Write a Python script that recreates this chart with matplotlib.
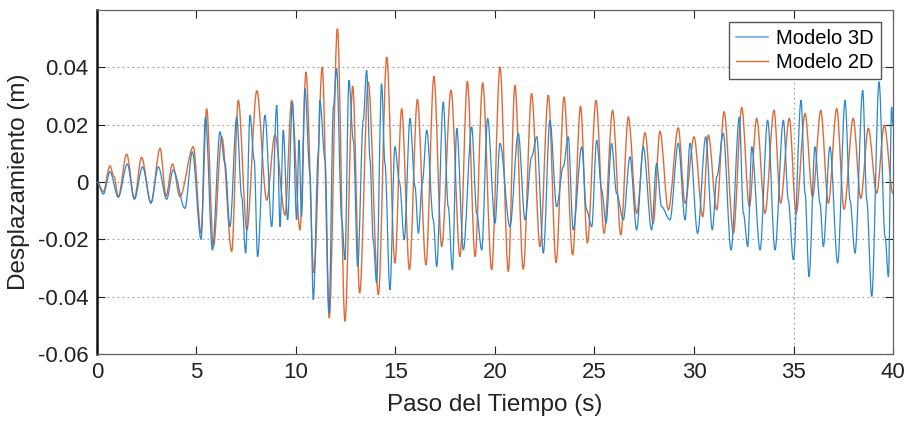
import matplotlib
matplotlib.use("Agg")
import matplotlib.pyplot as plt
from matplotlib.path import Path
from matplotlib.patches import PathPatch
from matplotlib.lines import Line2D
from matplotlib.ticker import FixedLocator, FuncFormatter

plt.rcParams['font.family'] = ['Liberation Sans', 'DejaVu Sans']
plt.rcParams['axes.unicode_minus'] = False

# ---- data (turning points of each trace) ----
t_2d = [0.0, 0.32, 0.65, 0.85, 1.07, 1.49, 1.88, 2.24, 2.71, 3.17, 3.47, 3.79, 4.17, 4.84,
        5.23, 5.51, 5.85, 6.27, 6.77, 7.10, 7.53, 8.03, 8.53, 8.94, 9.45, 9.78, 10.2, 10.5,
        10.9, 11.32, 11.67, 12.08, 12.46, 12.85, 13.2, 13.63, 14.14, 14.56, 14.97, 15.31,
        15.7, 16.1, 16.53, 16.93, 17.32, 17.79, 18.24, 18.61, 19.0, 19.38, 19.83, 20.25,
        20.67, 21.0, 21.42, 21.84, 22.26, 22.68, 23.07, 23.47, 23.9, 24.3, 24.64, 25.08,
        25.48, 25.91, 26.32, 26.7, 27.12, 27.54, 27.95, 28.29, 28.71, 29.21, 29.55, 30.0,
        30.44, 30.72, 31.14, 31.51, 31.98, 32.4, 32.78, 33.15, 33.57, 34.02, 34.35, 34.79,
        35.13, 35.58, 35.96, 36.37, 36.75, 37.17, 37.54, 38.0, 38.38, 38.76, 39.18, 39.56, 40.0]
d_2d = [0.0, -0.0034, 0.0056, 0.002, -0.0051, 0.0097, -0.0057, 0.0086, -0.0072, 0.0117,
        -0.0049, 0.0063, -0.0051, 0.0123, -0.0179, 0.0256, -0.0225, 0.0158, -0.0242, 0.0285,
        -0.0167, 0.0318, -0.0063, 0.0164, -0.0115, 0.0285, -0.0167, 0.0384, -0.0317, 0.0401,
        -0.0474, 0.0535, -0.0486, 0.0334, -0.0387, 0.0349, -0.0393, 0.0436, -0.0283, 0.0256,
        -0.0306, 0.0288, -0.0289, 0.0369, -0.0225, 0.032, -0.026, 0.0351, -0.026, 0.0346,
        -0.0306, 0.0401, -0.0312, 0.0337, -0.0304, 0.0309, -0.0225, 0.0303, -0.0281, 0.0297,
        -0.0254, 0.0264, -0.0213, 0.0285, -0.0179, 0.025, -0.0184, 0.0227, -0.0109, 0.0172,
        -0.0144, 0.0177, -0.0097, 0.0189, -0.0074, 0.0158, -0.0121, 0.0164, -0.0097, 0.0245,
        -0.0179, 0.026, -0.0086, 0.0222, -0.0109, 0.025, -0.0074, 0.0222, -0.0109, 0.0239,
        -0.0051, 0.025, -0.0074, 0.0256, -0.0095, 0.0222, -0.0057, 0.0187, -0.0039, 0.0198,
        -0.004]

t_3d = [0.0, 0.32, 0.65, 1.07, 1.52, 1.88, 2.29, 2.71, 3.08, 3.5, 3.83, 4.42, 4.79, 5.23,
        5.45, 5.8, 6.18, 6.43, 6.68, 7.02, 7.27, 7.47, 7.69, 7.9, 8.07, 8.44, 8.78, 9.03,
        9.2, 9.36, 9.58, 9.82, 10.03, 10.15, 10.28, 10.45, 10.7, 10.87, 11.12, 11.2, 11.46,
        11.66, 11.88, 12.04, 12.3, 12.46, 12.66, 12.88, 13.1, 13.38, 13.55, 13.72, 13.88,
        14.05, 14.3, 14.47, 14.72, 14.97, 15.2, 15.44, 15.73, 15.98, 16.15, 16.35, 16.57,
        16.9, 17.07, 17.4, 17.65, 17.86, 18.08, 18.41, 18.83, 19.08, 19.33, 19.63, 20.0,
        20.25, 20.75, 21.17, 21.51, 21.84, 22.1, 22.43, 22.76, 23.1, 23.43, 23.68, 23.93,
        24.36, 24.6, 24.86, 25.11, 25.36, 25.58, 25.86, 26.11, 26.45, 26.78, 27.12, 27.45,
        27.87, 28.12, 28.37, 28.79, 29.21, 29.55, 29.8, 30.18, 30.59, 30.92, 31.15, 31.47,
        31.86, 32.28, 32.48, 32.7, 32.9, 33.32, 33.7, 34.07, 34.49, 34.74, 34.99, 35.38,
        35.58, 35.78, 36.08, 36.33, 36.5, 36.83, 37.22, 37.59, 37.84, 38.09, 38.48, 38.68,
        38.93, 39.3, 39.6, 39.77, 39.93, 40.0]
d_3d = [0.0, -0.0042, 0.0036, -0.0053, 0.0063, -0.006, 0.0053, -0.0074, 0.0053, -0.006,
        0.0042, -0.0092, 0.0105, -0.02, 0.0228, -0.0237, 0.0175, 0.0065, -0.0156, 0.0227,
        -0.0051, -0.0248, 0.0233, 0.0077, -0.026, 0.0233, -0.0156, 0.0268, -0.0156, 0.0181,
        -0.0132, 0.0279, -0.0132, 0.0146, -0.012, 0.0326, 0.003, -0.0411, 0.0101, 0.0285,
        0.0077, -0.0457, 0.0262, 0.0396, -0.0132, -0.0271, 0.0355, 0.0146, -0.0295, 0.0216,
        0.039, 0.0077, -0.0202, -0.0352, 0.0343, 0.0065, -0.0376, 0.0123, 0.0, -0.0202,
        0.0222, -0.0016, -0.0179, 0.0, 0.0181, -0.0132, -0.0295, 0.0279, -0.0086, -0.0306,
        0.0187, -0.0237, 0.0192, -0.0109, -0.0237, 0.0222, -0.0144, 0.0135, -0.0156, 0.017,
        -0.0132, 0.0088, 0.0158, -0.0248, 0.0216, -0.0086, 0.0053, 0.0158, -0.0167, 0.0123,
        -0.0097, -0.0156, 0.0146, -0.0028, -0.0144, 0.0135, -0.0039, -0.0132, 0.0088,
        -0.0167, 0.0123, -0.0167, 0.0065, -0.0086, -0.0132, 0.0135, -0.0132, 0.0135,
        -0.0179, 0.0158, -0.0167, 0.002, 0.017, -0.0237, 0.0227, -0.0109, -0.0225, 0.0123,
        -0.0237, 0.0216, -0.0237, 0.0216, -0.0063, -0.0271, 0.0285, -0.0039, -0.033, 0.0123,
        -0.0074, -0.0225, 0.0123, -0.0283, 0.0285, -0.0063, -0.0248, 0.032, -0.0063, -0.0399,
        0.035, -0.019, -0.033, 0.0262, 0.02]

series_labels = ['Modelo 3D', 'Modelo 2D']
x_ticks = [0, 5, 10, 15, 20, 25, 30, 35, 40]
y_ticks = [-0.06, -0.04, -0.02, 0, 0.02, 0.04]
y_grid = [-0.04, -0.02, 0, 0.02, 0.04]

c3d = '#2a88cf'
c2d = '#e06a35'


def smooth_path(xs, ys):
    """Rounded rendering of the trace: cubic segments with flat tangents at each turning point."""
    verts = [(xs[0], ys[0])]
    codes = [Path.MOVETO]
    for i in range(1, len(xs)):
        dx = (xs[i] - xs[i - 1]) / 3.0
        verts += [(xs[i - 1] + dx, ys[i - 1]), (xs[i] - dx, ys[i]), (xs[i], ys[i])]
        codes += [Path.CURVE4] * 3
    return Path(verts, codes)


fig = plt.figure(figsize=(9.09, 4.36), dpi=100)
ax = fig.add_axes([0.1067, 0.188, 0.8757, 0.789])

for yv in y_grid:
    ax.axhline(yv, color='#999999', lw=0.8, ls=(0, (1.5, 3)), zorder=0)
ax.axvline(35, color='#999999', lw=0.8, ls=(0, (1.5, 3)), zorder=0)

ax.add_patch(PathPatch(smooth_path(t_2d, d_2d), fill=False, edgecolor=c2d, lw=1.0,
                       zorder=2, transform=ax.transData))
ax.add_patch(PathPatch(smooth_path(t_3d, d_3d), fill=False, edgecolor=c3d, lw=0.9,
                       zorder=3, transform=ax.transData))

ax.set_xlim(0, 40)
ax.set_ylim(-0.06, 0.06)
ax.xaxis.set_major_locator(FixedLocator(x_ticks))
ax.yaxis.set_major_locator(FixedLocator(y_ticks))
ax.yaxis.set_major_formatter(FuncFormatter(lambda v, p: '0' if abs(v) < 1e-12 else f'{v:.2f}'))
ax.tick_params(direction='in', top=True, right=True, length=6, width=0.8,
               labelsize=16, colors='#222222', pad=6)

for s in ax.spines.values():
    s.set_color('#666666')
    s.set_linewidth(0.9)
ax.spines['left'].set_color('#111111')
ax.spines['left'].set_linewidth(1.8)

ax.set_xlabel('Paso del Tiempo (s)', fontsize=17.5, color='#222222', labelpad=8)
ax.set_ylabel('Desplazamiento (m)', fontsize=17.5, color='#222222', labelpad=6)

h3 = Line2D([], [], color='#6aaee0', lw=1.2)
h2 = Line2D([], [], color=c2d, lw=1.0)
leg = ax.legend(handles=[h3, h2], labels=series_labels, loc='upper right', fontsize=14.5,
                frameon=True, fancybox=False, edgecolor='#555555', framealpha=1,
                handlelength=1.6, handletextpad=0.4, borderpad=0.35, labelspacing=0.25,
                borderaxespad=0.6)
leg.get_frame().set_linewidth(1.0)
leg.set_zorder(10)

fig.savefig('out.png', dpi=100)
